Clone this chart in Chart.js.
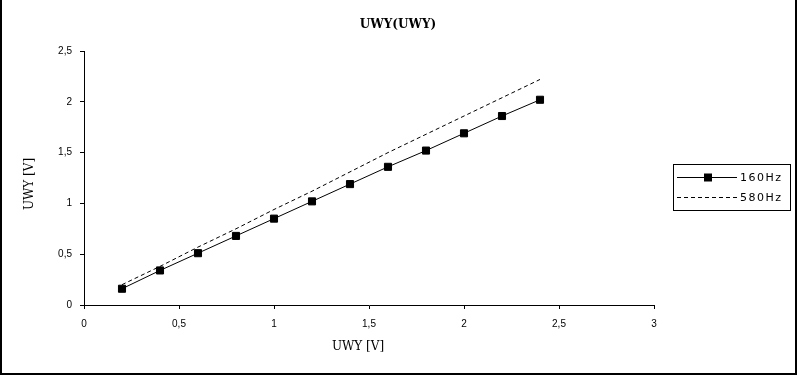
<!DOCTYPE html>
<html>
<head>
<meta charset="utf-8">
<script src="https://cdn.jsdelivr.net/npm/chart.js@4.4.1/dist/chart.umd.min.js"></script>
<style>
    html, body { margin: 0; padding: 0; background: #fff; }
    #wrap { width: 797px; height: 375px; }
</style>
</head>
<body>
<div id="wrap"><canvas id="chart" width="797" height="375"></canvas></div>
<script>
// --- data ---
const chartTitle = 'UWY(UWY)';
const xTitle = 'UWY [V]';
const yTitle = 'UWY [V]';
const seriesNames = ['160Hz', '580Hz'];
const uwyIn = [0.2, 0.4, 0.6, 0.8, 1.0, 1.2, 1.4, 1.6, 1.8, 2.0, 2.2, 2.4];
const uwy160 = [0.16, 0.34, 0.51, 0.68, 0.85, 1.02, 1.19, 1.36, 1.52, 1.69, 1.86, 2.02];
const uwy580 = [0.20, 0.38, 0.57, 0.75, 0.94, 1.12, 1.31, 1.50, 1.68, 1.86, 2.04, 2.22];
const xRange = [0, 3];
const yRange = [0, 2.5];
const tickStep = 0.5;

const toPoints = (ys) => uwyIn.map((x, i) => ({ x: x, y: ys[i] }));
const commaFmt = (v) => String(v).replace('.', ',');

/**
 * Draws the chart title, axis titles, boxed legend and the outer frame.
 */
const decorPlugin = {
    id: 'decor',
    afterDraw(chart) {
        const { ctx, width, height } = chart;
        ctx.save();
        ctx.fillStyle = '#000';
        ctx.strokeStyle = '#000';

        // title
        ctx.font = 'bold 12px "DejaVu Serif"';
        ctx.textAlign = 'center';
        ctx.textBaseline = 'middle';
        ctx.fillText(chartTitle, 398, 25);

        // axis titles
        ctx.font = '12px "DejaVu Serif"';
        ctx.fillText(xTitle, 358, 347);
        ctx.save();
        ctx.translate(30, 184);
        ctx.rotate(-Math.PI / 2);
        ctx.fillText(yTitle, 0, 0);
        ctx.restore();

        // legend box
        ctx.lineWidth = 1;
        ctx.strokeRect(673.5, 164.5, 117, 46);
        ctx.font = '11px "DejaVu Sans"';
        ctx.letterSpacing = '1.5px';
        ctx.textAlign = 'left';
        chart.data.datasets.forEach((ds, i) => {
            const y = 177.5 + i * 20;
            ctx.setLineDash(ds.borderDash || []);
            ctx.beginPath();
            ctx.moveTo(677, y);
            ctx.lineTo(737, y);
            ctx.stroke();
            ctx.setLineDash([]);
            if (ds.pointRadius > 0) {
                ctx.fillRect(704, y - 4, 8, 8);
            }
            ctx.fillText(ds.label, 740, y + 1);
        });
        ctx.letterSpacing = '0px';

        // outer frame (left, right, bottom)
        ctx.lineWidth = 2;
        ctx.beginPath();
        ctx.moveTo(1, 0);
        ctx.lineTo(1, height - 1);
        ctx.lineTo(width - 1, height - 1);
        ctx.lineTo(width - 1, 0);
        ctx.stroke();
        ctx.restore();
    }
};

new Chart(document.getElementById('chart'), {
    type: 'scatter',
    data: {
        datasets: [
            {
                label: seriesNames[0],
                data: toPoints(uwy160),
                showLine: true,
                borderColor: '#000',
                borderWidth: 1,
                backgroundColor: '#000',
                pointStyle: 'rect',
                pointRadius: 5,
                pointBorderWidth: 1,
                pointBorderColor: '#000',
                pointBackgroundColor: '#000',
                tension: 0
            },
            {
                label: seriesNames[1],
                data: toPoints(uwy580),
                showLine: true,
                borderColor: '#000',
                borderWidth: 1,
                borderDash: [4, 3],
                pointRadius: 0,
                tension: 0
            }
        ]
    },
    options: {
        responsive: false,
        animation: false,
        devicePixelRatio: 1,
        layout: { padding: { top: 51, right: 143, bottom: 0, left: 0 } },
        plugins: {
            legend: { display: false },
            tooltip: { enabled: false },
            title: { display: false }
        },
        scales: {
            x: {
                type: 'linear',
                min: xRange[0],
                max: xRange[1],
                afterFit: (scale) => { scale.height = 70; },
                border: { color: '#000', width: 1 },
                grid: { drawOnChartArea: false, drawTicks: true, tickLength: 4, tickColor: '#000' },
                ticks: {
                    stepSize: tickStep,
                    padding: 9,
                    color: '#000',
                    maxRotation: 0,
                    font: { family: '"Liberation Sans"', size: 10 },
                    callback: commaFmt
                }
            },
            y: {
                type: 'linear',
                min: yRange[0],
                max: yRange[1],
                afterFit: (scale) => { scale.width = 84; },
                border: { color: '#000', width: 1 },
                grid: { drawOnChartArea: false, drawTicks: true, tickLength: 4, tickColor: '#000' },
                ticks: {
                    stepSize: tickStep,
                    padding: 8,
                    color: '#000',
                    font: { family: '"Liberation Sans"', size: 10 },
                    callback: commaFmt
                }
            }
        }
    },
    plugins: [decorPlugin]
});
</script>
</body>
</html>
